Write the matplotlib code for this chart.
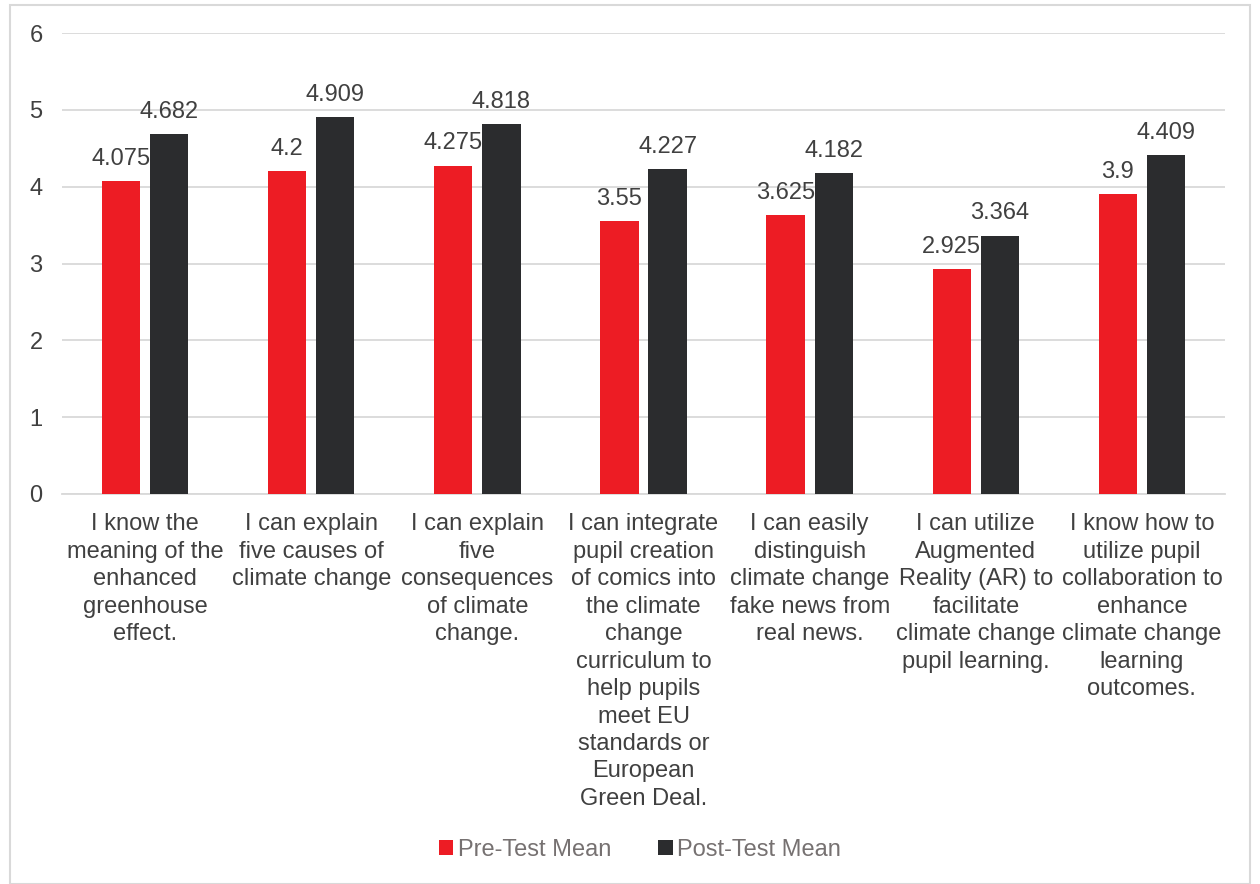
import matplotlib.pyplot as plt
import numpy as np
from matplotlib.patches import Rectangle

categories = [
    "I know the\nmeaning of the\nenhanced\ngreenhouse\neffect.",
    "I can explain\nfive causes of\nclimate change",
    "I can explain\nfive\nconsequences\nof climate\nchange.",
    "I can integrate\npupil creation\nof comics into\nthe climate\nchange\ncurriculum to\nhelp pupils\nmeet EU\nstandards or\nEuropean\nGreen Deal.",
    "I can easily\ndistinguish\nclimate change\nfake news from\nreal news.",
    "I can utilize\nAugmented\nReality (AR) to\nfacilitate\nclimate change\npupil learning.",
    "I know how to\nutilize pupil\ncollaboration to\nenhance\nclimate change\nlearning\noutcomes.",
]
pre = [4.075, 4.2, 4.275, 3.55, 3.625, 2.925, 3.9]
post = [4.682, 4.909, 4.818, 4.227, 4.182, 3.364, 4.409]
pre_labels = ["4.075", "4.2", "4.275", "3.55", "3.625", "2.925", "3.9"]
post_labels = ["4.682", "4.909", "4.818", "4.227", "4.182", "3.364", "4.409"]

plt.rcParams['font.family'] = ['Liberation Sans', 'DejaVu Sans']
txt = '#404040'
red = '#ED1C24'
dark = '#2B2C2E'
fs = 17

fig = plt.figure(figsize=(12.6, 8.84), dpi=100)
ax = fig.add_axes([62/1260, 1-494/884, (1225-62)/1260, (494-33)/884])

x = np.arange(len(categories))
w = 0.23
gap = 0.06
b1 = ax.bar(x - (w+gap)/2, pre, w, color=red, label='Pre-Test Mean', zorder=3)
b2 = ax.bar(x + (w+gap)/2, post, w, color=dark, label='Post-Test Mean', zorder=3)
for bars, labs in ((b1, pre_labels), (b2, post_labels)):
    for rect, lab in zip(bars, labs):
        ax.annotate(lab, (rect.get_x()+rect.get_width()/2, rect.get_height()),
                    xytext=(0, 8), textcoords='offset points', ha='center', va='bottom',
                    fontsize=fs, color=txt)

ax.set_xlim(-0.5, len(categories)-0.5)
ax.set_ylim(0, 6)
ax.set_yticks(range(0, 7))
ax.yaxis.grid(True, color='#D9D9D9', linewidth=1.3, zorder=0)
ax.set_axisbelow(True)
for s in ['top', 'right', 'left']:
    ax.spines[s].set_visible(False)
ax.spines['bottom'].set_color('#D9D9D9')
ax.spines['bottom'].set_linewidth(1.3)
ax.tick_params(axis='y', length=0, labelsize=fs, labelcolor=txt, pad=14)
ax.tick_params(axis='x', length=0, labelsize=fs, labelcolor=txt, pad=14)
ax.set_xticks(x)
ax.set_xticklabels(categories, linespacing=1.32, va='top')

leg = fig.legend(handles=[b1, b2], loc='center', bbox_to_anchor=(640/1260, 1-850/884),
                 ncol=2, frameon=False, fontsize=fs, handlelength=0.6, handleheight=0.6,
                 handletextpad=0.2, columnspacing=2.0)
for t in leg.get_texts():
    t.set_color('#767171')

fig.patches.append(Rectangle((10/1260, 0), 1240/1260, 1-5/884, transform=fig.transFigure,
                             fill=False, edgecolor='#D9D9D9', linewidth=1.5))
fig.savefig('out.png', dpi=100)
